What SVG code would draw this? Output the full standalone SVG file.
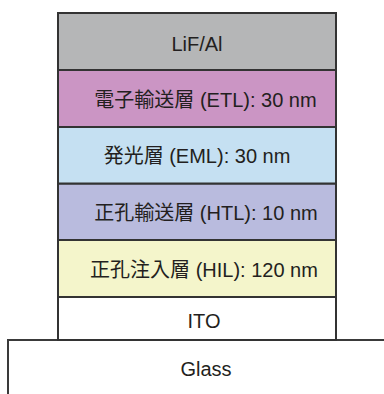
<svg xmlns="http://www.w3.org/2000/svg" width="384" height="394" viewBox="0 0 384 394">
  <style>
    .layer { stroke: #333333; stroke-width: 2; }
    .lbl { font-family: "Liberation Sans", "Noto Sans CJK JP", sans-serif; font-size: 20px; fill: #231f20; text-anchor: middle; }
    .glass { fill: #ffffff; stroke: #3a3a3a; stroke-width: 2; }
  </style>
  <rect x="0" y="0" width="384" height="394" fill="#ffffff"/>
  <g id="glass">
    <path class="glass" d="M8,395 L8,340 L386,340"/>
    <text class="lbl" x="206" y="376">Glass</text>
  </g>
  <g id="ito">
    <rect class="layer" x="58" y="297" width="278" height="43" fill="#ffffff"/>
    <text class="lbl" x="204" y="328">ITO</text>
  </g>
  <g id="hil">
    <rect class="layer" x="58" y="240" width="278" height="57" fill="#f4f5cb"/>
    <text class="lbl" x="204" y="277">正孔注入層 (HIL): 120 nm</text>
  </g>
  <g id="htl">
    <rect class="layer" x="58" y="183.5" width="278" height="56.5" fill="#b9bbde"/>
    <text class="lbl" x="206" y="220">正孔輸送層 (HTL): 10 nm</text>
  </g>
  <g id="eml">
    <rect class="layer" x="58" y="127" width="278" height="56.5" fill="#c5e0f2"/>
    <text class="lbl" x="197" y="163">発光層 (EML): 30 nm</text>
  </g>
  <g id="etl">
    <rect class="layer" x="58" y="70" width="278" height="57" fill="#cb95c4"/>
    <text class="lbl" x="205.5" y="107">電子輸送層 (ETL): 30 nm</text>
  </g>
  <g id="lif-al">
    <rect class="layer" x="58" y="13" width="278" height="57" fill="#b5b6b7"/>
    <text class="lbl" x="197" y="50.5">LiF/Al</text>
  </g>
  <g id="connectors"></g>
</svg>
